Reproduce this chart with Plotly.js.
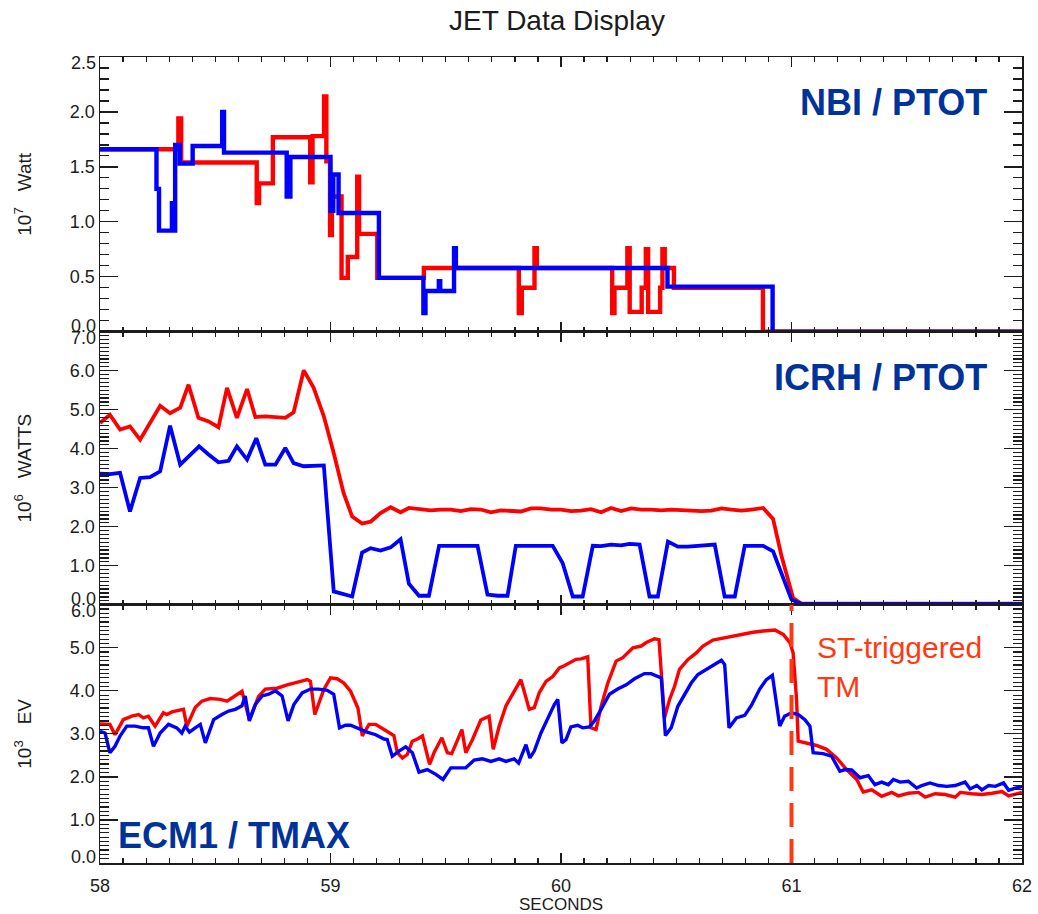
<!DOCTYPE html>
<html><head><meta charset="utf-8">
<script src="https://cdn.plot.ly/plotly-3.0.1.min.js"></script>
<style>html,body{margin:0;padding:0;background:#fff}#chart{width:1038px;height:914px}</style>
</head><body><div id="chart"></div>
<script>
// ---------- NBI / PTOT (10^7 Watt), step signals ----------
const nbiRedT = [58.0,58.340,58.352,58.680,58.690,58.750,58.912,58.922,58.972,58.982,58.998,59.006,59.048,59.075,59.116,59.124,59.203,59.405,59.817,59.830,59.885,59.895,60.222,60.232,60.288,60.298,60.350,60.368,60.378,60.430,60.440,60.450,60.490,60.876,62.0];
const nbiRedV = [1.66,1.94,1.54,1.17,1.35,1.77,1.36,1.78,2.14,1.55,0.88,1.23,0.49,0.68,1.41,0.89,0.49,0.58,0.17,0.40,0.76,0.58,0.17,0.40,0.76,0.18,0.40,0.75,0.18,0.40,0.75,0.58,0.40,0.00,0.00];
const nbiBlueT = [58.0,58.245,58.256,58.312,58.320,58.326,58.346,58.402,58.530,58.538,58.810,58.826,59.000,59.012,59.035,59.210,59.403,59.412,59.470,59.476,59.536,59.544,60.462,60.918,62.0];
const nbiBlueV = [1.66,1.30,0.92,1.17,0.92,1.70,1.53,1.69,2.00,1.63,1.23,1.59,1.10,1.43,1.08,0.49,0.17,0.37,0.46,0.37,0.76,0.58,0.41,0.00,0.00];

// ---------- ICRH / PTOT (10^6 WATTS) ----------
const icrhRedT = [58.000,58.043,58.087,58.130,58.174,58.217,58.261,58.304,58.348,58.384,58.427,58.471,58.514,58.551,58.594,58.638,58.674,58.717,58.761,58.804,58.840,58.884,58.927,58.971,59.014,59.057,59.094,59.137,59.174,59.217,59.261,59.304,59.340,59.391,59.435,59.478,59.522,59.565,59.609,59.652,59.696,59.739,59.783,59.826,59.870,59.913,59.957,60.000,60.043,60.087,60.130,60.174,60.217,60.261,60.304,60.348,60.391,60.435,60.478,60.522,60.565,60.609,60.652,60.696,60.739,60.783,60.826,60.877,60.920,60.957,61.007,61.043,62.000];
const icrhRedV = [4.66,4.87,4.49,4.57,4.23,4.66,5.10,4.91,5.05,5.64,4.79,4.70,4.55,5.56,4.79,5.53,4.81,4.83,4.81,4.79,4.93,6.01,5.56,4.83,3.89,2.86,2.26,2.08,2.13,2.35,2.50,2.37,2.48,2.44,2.42,2.44,2.44,2.40,2.45,2.44,2.37,2.42,2.41,2.39,2.47,2.47,2.44,2.44,2.40,2.41,2.45,2.37,2.48,2.40,2.47,2.44,2.44,2.42,2.44,2.42,2.41,2.40,2.41,2.47,2.44,2.41,2.44,2.48,2.20,1.24,0.17,0.03,0.03];
const icrhBlueT = [58.000,58.043,58.087,58.130,58.174,58.217,58.261,58.304,58.348,58.391,58.430,58.471,58.514,58.558,58.594,58.638,58.678,58.717,58.761,58.804,58.840,58.884,58.927,58.971,59.014,59.057,59.094,59.137,59.174,59.217,59.261,59.304,59.340,59.384,59.427,59.471,59.514,59.638,59.681,59.725,59.768,59.804,59.964,60.007,60.051,60.094,60.138,60.174,60.217,60.261,60.297,60.341,60.384,60.420,60.464,60.507,60.551,60.594,60.667,60.710,60.754,60.797,60.877,60.920,61.000,61.043,62.000];
const icrhBlueV = [3.36,3.35,3.38,2.39,3.25,3.27,3.42,4.59,3.59,3.85,4.06,3.85,3.65,3.69,4.06,3.72,4.27,3.59,3.59,4.02,3.63,3.55,3.55,3.57,0.34,0.26,0.21,1.34,1.45,1.39,1.47,1.68,0.54,0.23,0.23,1.51,1.51,1.51,0.26,0.23,0.23,1.51,1.51,1.07,0.21,0.21,1.51,1.50,1.54,1.52,1.56,1.54,0.21,0.21,1.62,1.49,1.49,1.51,1.54,0.21,0.21,1.51,1.51,1.37,0.13,0.02,0.02];

// ---------- ECM1 / TMAX (10^3 EV) ----------
const ecmRedT = [58.000,58.043,58.065,58.101,58.138,58.167,58.188,58.210,58.239,58.275,58.290,58.312,58.362,58.377,58.413,58.442,58.478,58.522,58.551,58.587,58.616,58.648,58.688,58.717,58.768,58.812,58.848,58.870,58.899,58.913,58.932,58.971,59.000,59.029,59.058,59.087,59.119,59.138,59.167,59.196,59.232,59.275,59.290,59.312,59.333,59.355,59.377,59.399,59.430,59.449,59.483,59.507,59.526,59.570,59.587,59.616,59.652,59.688,59.706,59.732,59.761,59.797,59.826,59.862,59.884,59.906,59.935,59.964,59.993,60.014,60.036,60.065,60.087,60.116,60.130,60.152,60.174,60.203,60.239,60.268,60.312,60.348,60.370,60.406,60.425,60.449,60.471,60.493,60.514,60.551,60.587,60.616,60.659,60.703,60.746,60.790,60.833,60.877,60.906,60.928,60.964,60.993,61.007,61.022,61.029,61.065,61.109,61.152,61.196,61.239,61.283,61.311,61.348,61.391,61.435,61.464,61.507,61.551,61.580,61.623,61.667,61.710,61.732,61.783,61.826,61.870,61.913,61.942,61.986,62.000];
const ecmRedV = [3.23,3.22,2.98,3.33,3.41,3.45,3.37,3.41,3.18,3.49,3.45,3.51,3.57,3.18,3.61,3.76,3.82,3.80,3.76,3.89,3.99,3.33,3.87,4.04,4.06,4.14,4.18,4.22,4.26,4.22,3.45,4.03,4.30,4.28,4.18,3.99,3.60,2.95,3.22,3.22,3.10,2.96,2.56,2.44,2.52,2.83,2.88,2.95,2.29,2.56,2.91,2.56,2.54,3.10,2.56,2.87,3.32,3.41,2.64,3.18,3.65,3.99,4.26,3.57,3.61,3.96,4.22,4.33,4.53,4.58,4.65,4.73,4.74,4.79,3.14,3.10,3.64,4.18,4.69,4.77,5.00,5.04,5.12,5.21,5.19,3.37,3.80,4.11,4.50,4.73,4.88,5.04,5.18,5.23,5.26,5.31,5.36,5.39,5.41,5.41,5.31,5.12,4.88,3.80,2.83,2.79,2.73,2.64,2.44,2.17,1.94,1.65,1.70,1.55,1.64,1.56,1.62,1.64,1.53,1.61,1.59,1.53,1.64,1.61,1.59,1.62,1.66,1.56,1.62,1.64];
const ecmBlueT = [58.000,58.022,58.043,58.065,58.087,58.116,58.152,58.188,58.210,58.232,58.261,58.297,58.333,58.355,58.370,58.388,58.413,58.435,58.457,58.493,58.529,58.558,58.587,58.616,58.630,58.648,58.674,58.703,58.732,58.761,58.790,58.816,58.841,58.877,58.913,58.949,58.986,59.014,59.039,59.065,59.087,59.123,59.159,59.196,59.232,59.246,59.268,59.297,59.326,59.355,59.384,59.420,59.457,59.488,59.522,59.558,59.587,59.623,59.659,59.696,59.732,59.761,59.797,59.816,59.848,59.865,59.884,59.913,59.942,59.971,59.986,60.004,60.022,60.043,60.072,60.094,60.123,60.145,60.174,60.210,60.246,60.283,60.319,60.362,60.391,60.420,60.435,60.453,60.478,60.507,60.536,60.565,60.594,60.630,60.667,60.696,60.710,60.729,60.761,60.797,60.826,60.862,60.891,60.917,60.949,60.970,61.000,61.029,61.058,61.080,61.094,61.137,61.174,61.210,61.232,61.261,61.297,61.333,61.362,61.391,61.420,61.442,61.471,61.507,61.543,61.565,61.601,61.638,61.674,61.710,61.753,61.775,61.804,61.826,61.855,61.884,61.920,61.942,61.971,62.000];
const ecmBlueV = [3.06,3.02,2.56,2.71,2.95,3.18,3.18,3.14,3.14,2.71,3.02,3.22,3.14,3.02,3.18,3.04,3.14,3.22,2.79,3.33,3.45,3.53,3.57,3.65,3.88,3.30,3.68,3.88,3.92,4.00,3.88,3.30,3.68,3.95,4.04,4.04,4.01,3.92,3.14,3.20,3.20,3.12,3.04,2.98,2.88,2.87,2.48,2.60,2.70,2.56,2.11,2.17,2.06,1.94,2.21,2.21,2.21,2.39,2.42,2.36,2.42,2.36,2.42,2.32,2.75,2.44,2.60,3.02,3.37,3.68,3.80,2.79,2.87,3.16,3.20,3.14,3.16,3.30,3.57,3.92,4.04,4.14,4.28,4.40,4.40,4.32,4.30,2.96,3.14,3.64,3.92,4.18,4.38,4.50,4.61,4.71,4.61,3.14,3.37,3.43,3.66,4.04,4.26,4.36,3.18,3.41,3.49,3.45,3.33,3.18,2.56,2.54,2.48,2.13,2.17,2.16,1.98,2.03,1.82,1.88,1.82,1.94,1.88,1.90,1.74,1.80,1.86,1.80,1.78,1.80,1.88,1.72,1.80,1.70,1.80,1.78,1.86,1.69,1.74,1.78];

// ---------- tick labels & texts ----------
const xTickVals = [58, 59, 60, 61, 62];
const xTickText = ['58', '59', '60', '61', '62'];
const nbiTickVals = [0, 0.5, 1.0, 1.5, 2.0, 2.5];
const nbiTickText = ['0.0', '0.5', '1.0', '1.5', '2.0', '2.5'];
const icrhTickVals = [0, 1, 2, 3, 4, 5, 6, 7];
const icrhTickText = ['0.0', '1.0', '2.0', '3.0', '4.0', '5.0', '6.0', '7.0'];
const ecmTickVals = [0, 1, 2, 3, 4, 5, 6];
const ecmTickText = ['0.0', '1.0', '2.0', '3.0', '4.0', '5.0', '6.0'];
const panelLabels = ['NBI / PTOT', 'ICRH / PTOT', 'ECM1 / TMAX'];
const yTitles = ['10<sup>7</sup>&nbsp;&nbsp;&nbsp;Watt', '10<sup>6</sup>&nbsp;&nbsp;&nbsp;WATTS', '10<sup>3</sup>&nbsp;&nbsp;&nbsp;EV'];
const eventTime = 61.0;
const eventLabel = 'ST-triggered<br>TM';

const RED = '#ff0000', BLUE = '#0000ff', LABEL = '#003399', EVENT = '#ff3a12', INK = '#1c1c1c';
const FONT = 'Liberation Sans, Arial, Helvetica, sans-serif';
const TICK_SIZE = 18;

function line(x, y, color, w, xa, ya, shape) {
  return {x: x, y: y, type: 'scatter', mode: 'lines', xaxis: xa, yaxis: ya,
    line: {color: color, width: w, shape: shape || 'linear'}, hoverinfo: 'skip', showlegend: false};
}
const data = [
  line(nbiRedT, nbiRedV, RED, 4.4, 'x', 'y', 'hv'),
  line(nbiBlueT, nbiBlueV, BLUE, 4.4, 'x', 'y', 'hv'),
  line(icrhRedT, icrhRedV, RED, 3.8, 'x2', 'y2'),
  line(icrhBlueT, icrhBlueV, BLUE, 3.8, 'x2', 'y2'),
  line(ecmRedT, ecmRedV, RED, 3.4, 'x3', 'y3'),
  line(ecmBlueT, ecmBlueV, BLUE, 3.4, 'x3', 'y3')
];

const tickFont = {family: FONT, size: TICK_SIZE, color: INK};
function xAxis(anchor, labels) {
  return {anchor: anchor, range: [58, 62], tickmode: 'array', tickvals: xTickVals, ticktext: xTickText,
    showline: true, linecolor: INK, linewidth: 1.5, mirror: 'allticks', ticks: 'inside',
    ticklen: 10, tickwidth: 1.3, tickcolor: INK, showgrid: false, zeroline: false,
    showticklabels: labels, tickfont: tickFont, fixedrange: true,
    minor: {tick0: 58, dtick: 0.1, ticks: 'inside', ticklen: 5, tickwidth: 1.2, tickcolor: INK, showgrid: false}};
}
// end labels (first & last) are drawn separately, shifted inward like the original IDL plot
function yAxis(anchor, domain, vals, texts, title) {
  return {anchor: anchor, domain: domain, range: [vals[0], vals[vals.length - 1]],
    tickmode: 'array', tickvals: vals.slice(1, -1), ticktext: texts.slice(1, -1),
    showline: true, linecolor: INK, linewidth: 1.5, mirror: 'allticks', ticks: 'inside',
    ticklen: 18, tickwidth: 1.3, tickcolor: INK, showgrid: false, zeroline: false,
    tickfont: tickFont, fixedrange: true,
    title: {text: title, font: {family: FONT, size: 19, color: INK}, standoff: 33},
    minor: {tick0: 0, dtick: 0.1, ticks: 'inside', ticklen: 9, tickwidth: 1.2, tickcolor: INK, showgrid: false}};
}

const H = 806; // plot area height in px
const py = px => (863.3 - px) / H;   // page y -> paper
const pxx = px => (px - 100) / 922;  // page x -> paper

const xa3 = xAxis('y3', true);
xa3.title = {text: 'SECONDS', font: {family: FONT, size: 17, color: INK}, standoff: 3};
xa3.ticklabelstandoff = 6;

const annotations = [
  {text: '<b>' + panelLabels[0] + '</b>', xref: 'paper', yref: 'paper', x: pxx(989), y: py(103),
    xanchor: 'right', yanchor: 'middle', showarrow: false, font: {family: FONT, size: 36, color: LABEL}},
  {text: '<b>' + panelLabels[1] + '</b>', xref: 'paper', yref: 'paper', x: pxx(989), y: py(378),
    xanchor: 'right', yanchor: 'middle', showarrow: false, font: {family: FONT, size: 36, color: LABEL}},
  {text: '<b>' + panelLabels[2] + '</b>', xref: 'paper', yref: 'paper', x: pxx(116), y: py(836),
    xanchor: 'left', yanchor: 'middle', showarrow: false, font: {family: FONT, size: 36, color: LABEL}},
  {text: eventLabel, xref: 'paper', yref: 'paper', x: pxx(815), y: py(667), align: 'left',
    xanchor: 'left', yanchor: 'middle', showarrow: false, font: {family: FONT, size: 30, color: EVENT}}
];
[[nbiTickVals, nbiTickText, 'y'], [icrhTickVals, icrhTickText, 'y2'], [ecmTickVals, ecmTickText, 'y3']].forEach(([v, t, ya]) => {
  const last = v.length - 1;
  annotations.push({text: t[0], xref: 'paper', yref: ya, x: 0, y: v[0], xanchor: 'right', yanchor: 'middle',
    xshift: -2, yshift: 6, showarrow: false, font: tickFont});
  annotations.push({text: t[last], xref: 'paper', yref: ya, x: 0, y: v[last], xanchor: 'right', yanchor: 'middle',
    xshift: -2, yshift: -6, showarrow: false, font: tickFont});
});

const layout = {
  width: 1038, height: 914,
  margin: {l: 100, r: 16, t: 57, b: 51},
  paper_bgcolor: '#ffffff', plot_bgcolor: '#ffffff',
  font: {family: FONT, color: INK},
  title: {text: 'JET Data Display', font: {family: FONT, size: 28, color: INK},
    xref: 'paper', x: pxx(557), xanchor: 'center', yref: 'container', y: 1 - 20 / 914, yanchor: 'middle'},
  xaxis: xAxis('y', false),
  xaxis2: xAxis('y2', false),
  xaxis3: xa3,
  yaxis: yAxis('x', [py(332), 1], nbiTickVals, nbiTickText, yTitles[0]),
  yaxis2: yAxis('x2', [py(605), py(332)], icrhTickVals, icrhTickText, yTitles[1]),
  yaxis3: yAxis('x3', [0, py(605)], ecmTickVals, ecmTickText, yTitles[2]),
  shapes: [{type: 'line', xref: 'x3', yref: 'y3 domain', x0: eventTime, x1: eventTime, y0: 0, y1: 1,
    line: {color: EVENT, width: 4, dash: '24px,12px'}}],
  annotations: annotations
};

Plotly.newPlot('chart', data, layout, {displayModeBar: false, staticPlot: true});
</script>
</body></html>
